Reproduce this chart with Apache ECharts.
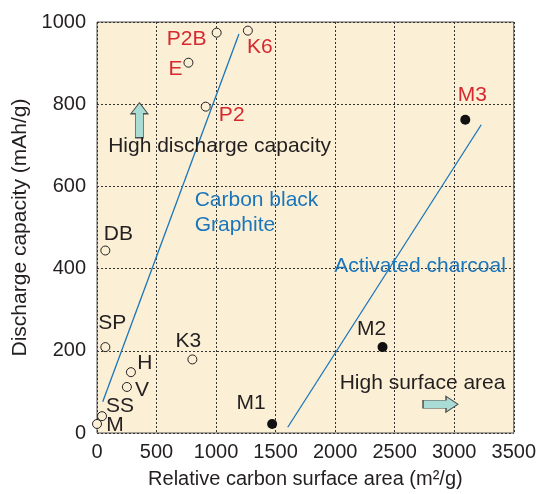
<!DOCTYPE html>
<html>
<head>
    <meta charset="UTF-8">
    <title>Discharge capacity vs surface area</title>
    <style type="text/css">
        body { margin: 0; background: #ffffff; }
        #main { width: 539px; height: 494px; }
    </style>
</head>
<body>
<div id="main"></div>
<script src="https://cdn.jsdelivr.net/npm/echarts@6/dist/echarts.min.js"></script>
<script type="text/javascript">
    // data
    var openNames = ['M', 'SS', 'V', 'H', 'SP', 'DB', 'K3', 'P2', 'E', 'P2B', 'K6'];
    var openX = [0, 42, 251, 285, 70, 70, 801, 913, 768, 1005, 1267];
    var openY = [22, 41, 112, 148, 209, 444, 179, 794, 901, 974, 979];

    var filledNames = ['M1', 'M2', 'M3'];
    var filledX = [1471, 2398, 3093];
    var filledY = [22, 209, 762];

    var redNames = ['P2', 'E', 'P2B', 'K6', 'M3'];

    var carbonLine = [[48, 76], [1192, 971]];
    var charcoalLine = [[1602, 14], [3227, 750]];

    var noteText = ['High discharge capacity', 'Carbon black\nGraphite', 'Activated charcoal', 'High surface area'];
    var noteX = [1030, 820, 2713, 2734];
    var noteY = [697, 537, 405, 122];
    var noteColor = ['#231f20', '#1b75bb', '#1b75bb', '#231f20'];

    var arrowUp = [356, 761];
    var arrowRight = [2885, 70];

    var xTicks = [0, 3500, 500];
    var yTicks = [0, 1000, 200];

    // where each point label sits, relative to the point (px)
    var labelOffset = {
        'M': [18, 1], 'SS': [18, -10], 'V': [15, 3], 'H': [14, -9], 'SP': [7, -24],
        'DB': [13, -16], 'K3': [-4, -18], 'P2': [26, 9], 'E': [-13, 7], 'P2B': [-30, 7],
        'K6': [12, 17], 'M1': [-21, -21], 'M2': [-11, -18], 'M3': [7, -25]
    };

    var red = '#d7282f';
    var ink = '#231f20';
    var blue = '#1b75bb';
    var font = "'Liberation Sans', Arial, Helvetica, sans-serif";

    function pointData(names, xs, ys) {
        var out = [];
        for (var i = 0; i < names.length; i++) {
            out.push({
                name: names[i],
                value: [xs[i], ys[i]],
                label: {
                    offset: labelOffset[names[i]],
                    color: redNames.indexOf(names[i]) >= 0 ? red : ink
                }
            });
        }
        return out;
    }

    var notes = [];
    for (var i = 0; i < noteText.length; i++) {
        notes.push({
            name: noteText[i],
            value: [noteX[i], noteY[i]],
            label: { color: noteColor[i], align: i == 1 ? 'left' : 'center' }
        });
    }

    var pointLabel = {
        show: true,
        position: 'inside',
        formatter: '{b}',
        fontSize: 21,
        fontFamily: font
    };

    // plain numbers, no thousands separator
    function plain(v) {
        return String(v);
    }

    var myChart = echarts.init(document.getElementById('main'));
    var option = {
        animation: false,
        textStyle: { fontFamily: font },
        grid: {
            left: 97, right: 24, top: 22, bottom: 55,
            show: true,
            backgroundColor: '#fbf0d5',
            borderColor: '#555',
            borderWidth: 1
        },
        xAxis: {
            type: 'value',
            min: xTicks[0], max: xTicks[1], interval: xTicks[2],
            name: 'Relative carbon surface area (m\u00b2/g)',
            nameLocation: 'middle',
            nameGap: 36,
            nameTextStyle: { fontSize: 20, color: ink, fontFamily: font },
            axisLine: { show: false },
            axisTick: { show: false },
            axisLabel: { fontSize: 20, color: ink, margin: 9, fontFamily: font, formatter: plain },
            splitLine: { lineStyle: { color: '#333', type: [2, 2], width: 1 } }
        },
        yAxis: {
            type: 'value',
            min: yTicks[0], max: yTicks[1], interval: yTicks[2],
            name: 'Discharge capacity (mAh/g)',
            nameLocation: 'middle',
            nameGap: 64,
            nameTextStyle: { fontSize: 21, color: ink, fontFamily: font },
            axisLine: { show: false },
            axisTick: { show: false },
            axisLabel: { fontSize: 20, color: ink, margin: 11, fontFamily: font, formatter: plain },
            splitLine: { lineStyle: { color: '#333', type: [2, 2], width: 1 } }
        },
        series: [
            {
                name: 'Carbon black / Graphite',
                type: 'line',
                data: carbonLine,
                symbol: 'none',
                lineStyle: { color: blue, width: 1.3 }
            },
            {
                name: 'Activated charcoal',
                type: 'line',
                data: charcoalLine,
                symbol: 'none',
                lineStyle: { color: blue, width: 1.3 }
            },
            {
                name: 'open',
                type: 'scatter',
                symbol: 'circle',
                symbolSize: 9,
                itemStyle: { color: '#fbf0d5', borderColor: ink, borderWidth: 1, opacity: 1 },
                label: pointLabel,
                data: pointData(openNames, openX, openY)
            },
            {
                name: 'filled',
                type: 'scatter',
                symbol: 'circle',
                symbolSize: 10,
                itemStyle: { color: '#111', opacity: 1 },
                label: pointLabel,
                data: pointData(filledNames, filledX, filledY)
            },
            {
                name: 'notes',
                type: 'scatter',
                symbolSize: 0,
                itemStyle: { opacity: 1 },
                label: {
                    show: true,
                    position: 'inside',
                    formatter: '{b}',
                    fontSize: 21,
                    lineHeight: 25,
                    fontFamily: font
                },
                data: notes,
                z: 5
            },
            {
                name: 'arrows',
                type: 'scatter',
                itemStyle: { color: '#a9dcd4', borderColor: '#4d4d4d', borderWidth: 1, opacity: 1 },
                data: [
                    {
                        value: arrowUp,
                        symbol: 'path://M8.5,0 L17,11 L12.5,11 L12.5,35 L4.5,35 L4.5,11 L0,11 Z',
                        symbolSize: [17, 35]
                    },
                    {
                        value: arrowRight,
                        symbol: 'path://M0,4 L23,4 L23,0 L35,8 L23,16 L23,12 L0,12 Z',
                        symbolSize: [35, 16]
                    }
                ]
            }
        ]
    };
    myChart.setOption(option);
</script>
</body>
</html>
